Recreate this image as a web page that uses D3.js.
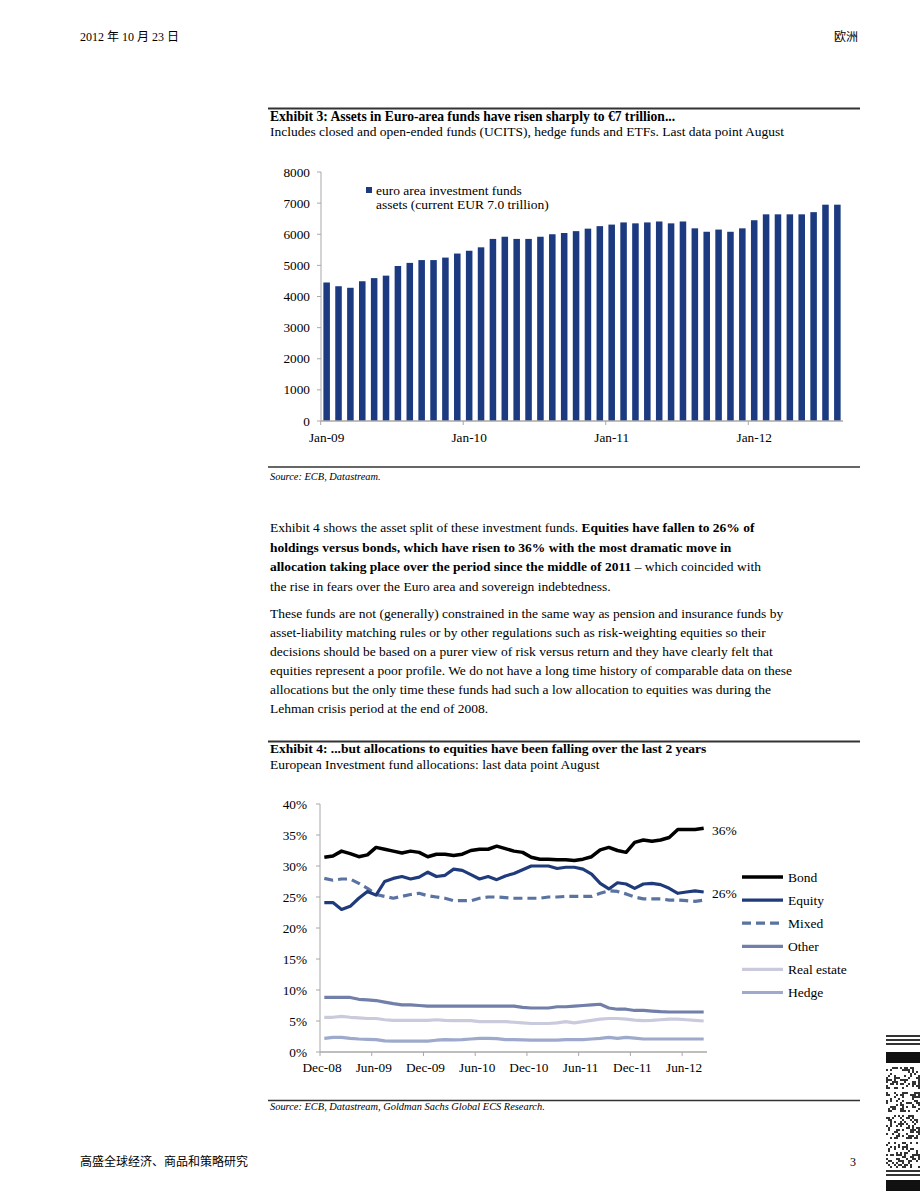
<!DOCTYPE html>
<html>
<head>
<meta charset="utf-8">
<script src="https://cdn.jsdelivr.net/npm/d3@7"></script>
<style>
  body { margin: 0; background: #fff; }
  text { font-family: "Liberation Serif", "Noto Sans CJK SC", serif; fill: #000; }
</style>
</head>
<body>
<svg id="page" width="920" height="1191"></svg>
<script>
// ---- data: exhibit 3 (EUR bn, Jan-09 .. Aug-12)
const assetMonths = d3.timeMonths(new Date(2009, 0, 1), new Date(2012, 8, 1));
const assetValues = [4450, 4330, 4280, 4490, 4590, 4670, 4980, 5080, 5170, 5170,
                     5250, 5380, 5470, 5580, 5850, 5920, 5850, 5850, 5920, 6000,
                     6040, 6100, 6180, 6260, 6310, 6380, 6350, 6380, 6410, 6350,
                     6410, 6190, 6080, 6150, 6080, 6190, 6450, 6640, 6640, 6640,
                     6640, 6710, 6950, 6950];
const assetTicks = [0, 1000, 2000, 3000, 4000, 5000, 6000, 7000, 8000];

// ---- data: exhibit 4 (% of holdings, Dec-08 .. Aug-12)
const allocMonths = d3.timeMonths(new Date(2008, 11, 1), new Date(2012, 8, 1));
const bond = [31.4, 31.6, 32.4, 32.0, 31.5, 31.8, 33.0, 32.7, 32.4, 32.1, 32.4, 32.2, 31.5, 31.9, 31.9,
              31.7, 31.9, 32.5, 32.7, 32.7, 33.2, 32.8, 32.4, 32.2, 31.4, 31.1, 31.1, 31.0, 31.0, 30.9,
              31.1, 31.5, 32.6, 33.0, 32.5, 32.2, 33.8, 34.2, 34.0, 34.2, 34.6, 35.9, 35.9, 35.9, 36.1];
const equity = [24.1, 24.1, 23.0, 23.5, 24.8, 25.9, 25.3, 27.5, 28.0, 28.3, 27.9, 28.2, 29.0, 28.3, 28.5,
                29.5, 29.3, 28.6, 27.9, 28.3, 27.8, 28.4, 28.8, 29.4, 30.0, 30.0, 30.0, 29.6, 29.8, 29.8,
                29.5, 28.7, 27.2, 26.3, 27.3, 27.1, 26.4, 27.1, 27.2, 27.0, 26.4, 25.6, 25.8, 26.0, 25.8];
const mixed = [28.0, 27.7, 27.9, 27.9, 27.2, 26.4, 25.4, 25.1, 24.8, 25.1, 25.4, 25.6, 25.2, 25.0, 24.8,
               24.4, 24.4, 24.4, 24.8, 25.0, 25.0, 24.9, 24.8, 24.8, 24.8, 24.8, 25.0, 25.0, 25.1, 25.1,
               25.1, 25.1, 25.6, 26.0, 25.9, 25.5, 25.0, 24.7, 24.7, 24.7, 24.5, 24.5, 24.4, 24.3, 24.5];
const other = [8.8, 8.8, 8.8, 8.8, 8.5, 8.4, 8.3, 8.05, 7.8, 7.6, 7.6, 7.5, 7.4, 7.4, 7.4,
               7.4, 7.4, 7.4, 7.4, 7.4, 7.4, 7.4, 7.4, 7.2, 7.1, 7.1, 7.1, 7.3, 7.3, 7.4,
               7.5, 7.6, 7.7, 7.1, 6.9, 6.9, 6.7, 6.7, 6.6, 6.5, 6.45, 6.45, 6.45, 6.45, 6.45];
const realEstate = [5.6, 5.6, 5.75, 5.6, 5.5, 5.4, 5.4, 5.2, 5.1, 5.1, 5.1, 5.1, 5.1, 5.2, 5.1,
                    5.05, 5.05, 5.05, 4.9, 4.9, 4.9, 4.9, 4.8, 4.7, 4.6, 4.6, 4.6, 4.7, 4.9, 4.7,
                    4.9, 5.1, 5.3, 5.4, 5.4, 5.3, 5.15, 5.05, 5.1, 5.2, 5.3, 5.3, 5.2, 5.1, 5.0];
const hedge = [2.2, 2.35, 2.35, 2.2, 2.1, 2.05, 2.0, 1.8, 1.75, 1.75, 1.75, 1.75, 1.75, 1.9, 2.0,
               1.95, 2.0, 2.1, 2.2, 2.2, 2.15, 2.0, 2.0, 1.95, 1.9, 1.9, 1.9, 1.9, 2.0, 2.0,
               2.0, 2.1, 2.2, 2.35, 2.2, 2.35, 2.25, 2.1, 2.1, 2.1, 2.1, 2.1, 2.1, 2.1, 2.1];
const allocTicks = [0, 5, 10, 15, 20, 25, 30, 35, 40];
const seriesNames = ['Bond', 'Equity', 'Mixed', 'Other', 'Real estate', 'Hedge'];
const seriesValues = [bond, equity, mixed, other, realEstate, hedge];

const svg = d3.select('#page');
svg.append('rect').attr('width', 920).attr('height', 1191).attr('fill', '#fff');

// ---- page header / footer
svg.append('text').attr('x', 80).attr('y', 41).style('font-size', '12px').text('2012 年 10 月 23 日');
svg.append('text').attr('x', 858).attr('y', 41).attr('text-anchor', 'end').style('font-size', '12px').text('欧洲');
svg.append('text').attr('x', 80).attr('y', 1166).style('font-size', '12px').text('高盛全球经济、商品和策略研究');
svg.append('text').attr('x', 856).attr('y', 1166).attr('text-anchor', 'end').style('font-size', '12px').text('3');

function rule(y, w) {
    svg.append('line').attr('x1', 268).attr('x2', 860).attr('y1', y).attr('y2', y)
        .attr('stroke', '#333').attr('stroke-width', w);
}

function textLine(y, segs, size) {
    let t = svg.append('text').attr('x', 270).attr('y', y).style('font-size', size + 'px');
    segs.forEach(s => {
        t.append('tspan').style('font-weight', s.b ? 'bold' : 'normal')
            .style('font-style', s.i ? 'italic' : 'normal').text(s.t);
    });
    return t;
}

// ---- exhibit 3 frame
rule(108.5, 2);
textLine(120.5, [{t: 'Exhibit 3: Assets in Euro-area funds have risen sharply to €7 trillion...', b: true}], 13.6);
textLine(136, [{t: 'Includes closed and open-ended funds (UCITS), hedge funds and ETFs. Last data point August'}], 13.5);
rule(467, 1.5);
textLine(479.5, [{t: 'Source: ECB, Datastream.', i: true}], 10.4);

// ---- exhibit 3 chart
const x3 = d3.scaleBand().domain(d3.range(assetValues.length)).range([321, 843]).paddingInner(0.45).paddingOuter(0.2);
const y3 = d3.scaleLinear().domain([0, 8000]).range([421, 172]);
const axisColor = '#a8a8a8';

const g3 = svg.append('g');
g3.selectAll('.bar').data(assetValues).join('rect')
    .attr('class', 'bar')
    .attr('x', (d, i) => x3(i))
    .attr('width', x3.bandwidth())
    .attr('y', d => y3(d))
    .attr('height', d => y3(0) - y3(d))
    .attr('fill', '#1b3a80');

g3.append('line').attr('x1', 321).attr('x2', 321).attr('y1', y3(8000)).attr('y2', y3(0)).attr('stroke', axisColor);
g3.append('line').attr('x1', 321).attr('x2', 843).attr('y1', y3(0)).attr('y2', y3(0)).attr('stroke', axisColor).attr('stroke-width', 1.5);
assetTicks.forEach(v => {
    g3.append('line').attr('x1', 317).attr('x2', 321).attr('y1', y3(v)).attr('y2', y3(v)).attr('stroke', axisColor);
    g3.append('text').attr('x', 310).attr('y', y3(v) + 4.5).attr('text-anchor', 'end')
        .style('font-size', '13.3px').text(v);
});
const fmt3 = d3.timeFormat('%b-%y');
assetMonths.forEach((m, i) => {
    if (m.getMonth() !== 0) return;
    const edge = x3(i) - x3.step() * x3.paddingInner() / 2;
    g3.append('line').attr('x1', edge).attr('x2', edge).attr('y1', y3(0)).attr('y2', y3(0) + 4).attr('stroke', axisColor);
    g3.append('text').attr('x', x3(i) + x3.bandwidth() / 2).attr('y', 441.5).attr('text-anchor', 'middle')
        .style('font-size', '13.3px').text(fmt3(m));
});
g3.append('rect').attr('x', 366).attr('y', 187).attr('width', 6).attr('height', 6).attr('fill', '#1b3a80');
g3.append('text').attr('x', 376).attr('y', 194.5).style('font-size', '13.5px').text('euro area investment funds');
g3.append('text').attr('x', 376).attr('y', 208.5).style('font-size', '13.5px').text('assets (current EUR 7.0 trillion)');

// ---- body text
const para = [
    [532, [{t: 'Exhibit 4 shows the asset split of these investment funds. '}, {t: 'Equities have fallen to 26% of', b: true}]],
    [552, [{t: 'holdings versus bonds, which have risen to 36% with the most dramatic move in', b: true}]],
    [571, [{t: 'allocation taking place over the period since the middle of 2011', b: true}, {t: ' – which coincided with'}]],
    [591, [{t: 'the rise in fears over the Euro area and sovereign indebtedness.'}]],
    [618, [{t: 'These funds are not (generally) constrained in the same way as pension and insurance funds by'}]],
    [637, [{t: 'asset-liability matching rules or by other regulations such as risk-weighting equities so their'}]],
    [656, [{t: 'decisions should be based on a purer view of risk versus return and they have clearly felt that'}]],
    [675, [{t: 'equities represent a poor profile. We do not have a long time history of comparable data on these'}]],
    [694, [{t: 'allocations but the only time these funds had such a low allocation to equities was during the'}]],
    [713, [{t: 'Lehman crisis period at the end of 2008.'}]]
];
para.forEach(p => textLine(p[0], p[1], 13.5));

// ---- exhibit 4 frame
rule(741.5, 2);
textLine(752.5, [{t: 'Exhibit 4: ...but allocations to equities have been falling over the last 2 years', b: true}], 13.5);
textLine(768.5, [{t: 'European Investment fund allocations: last data point August'}], 13.5);
rule(1100.5, 1.5);
textLine(1109.5, [{t: 'Source: ECB, Datastream, Goldman Sachs Global ECS Research.', i: true}], 10.4);

// ---- exhibit 4 chart
const x4 = d3.scaleBand().domain(d3.range(allocMonths.length)).range([320, 708]);
const y4 = d3.scaleLinear().domain([0, 40]).range([1052, 804]);
const cx4 = i => x4(i) + x4.bandwidth() / 2;
const g4 = svg.append('g');

g4.append('line').attr('x1', 320).attr('x2', 320).attr('y1', y4(40)).attr('y2', y4(0)).attr('stroke', axisColor);
g4.append('line').attr('x1', 320).attr('x2', 707).attr('y1', y4(0)).attr('y2', y4(0)).attr('stroke', axisColor).attr('stroke-width', 1.5);
allocTicks.forEach(v => {
    g4.append('line').attr('x1', 316).attr('x2', 320).attr('y1', y4(v)).attr('y2', y4(v)).attr('stroke', axisColor);
    g4.append('text').attr('x', 307).attr('y', y4(v) + 4.5).attr('text-anchor', 'end')
        .style('font-size', '13.3px').text(v + '%');
});
allocMonths.forEach((m, i) => {
    if (i % 6 !== 0) return;
    const xx = x4(i);
    g4.append('line').attr('x1', xx).attr('x2', xx).attr('y1', y4(0)).attr('y2', y4(0) + 4).attr('stroke', axisColor);
    g4.append('text').attr('x', xx + 2).attr('y', 1072).attr('text-anchor', 'middle')
        .style('font-size', '13.3px').text(fmt3(m));
});

const styles = [
    {color: '#000000', width: 3.5, dash: null},
    {color: '#1f3b7b', width: 3.2, dash: null},
    {color: '#5a73a0', width: 3.2, dash: '9,5'},
    {color: '#727fa9', width: 3.2, dash: null},
    {color: '#cacadd', width: 3.2, dash: null},
    {color: '#9eaacb', width: 3.2, dash: null}
];
const line4 = d3.line().x((d, i) => cx4(i)).y(d => y4(d));
const drawOrder = [5, 4, 3, 2, 1, 0];
drawOrder.forEach(k => {
    g4.append('path').datum(seriesValues[k]).attr('d', line4)
        .attr('fill', 'none').attr('stroke', styles[k].color).attr('stroke-width', styles[k].width)
        .attr('stroke-linejoin', 'round')
        .attr('stroke-dasharray', styles[k].dash);
});
g4.append('text').attr('x', 712).attr('y', 834.5).style('font-size', '13.5px').text(Math.round(bond[bond.length - 1]) + '%');
g4.append('text').attr('x', 712).attr('y', 897.5).style('font-size', '13.5px').text(Math.round(equity[equity.length - 1]) + '%');

seriesNames.forEach((name, k) => {
    const ly = 877 + k * 23.1;
    g4.append('line').attr('x1', 742).attr('x2', 783).attr('y1', ly).attr('y2', ly)
        .attr('stroke', styles[k].color).attr('stroke-width', styles[k].width)
        .attr('stroke-dasharray', styles[k].dash);
    g4.append('text').attr('x', 788).attr('y', ly + 4.5).style('font-size', '13.5px').text(name);
});

// ---- QR-style print mark at the bottom right corner
const qr = svg.append('g');
[1035, 1039, 1043].forEach(y => qr.append('rect').attr('x', 886).attr('y', y).attr('width', 34).attr('height', 2).attr('fill', '#333'));
qr.append('rect').attr('x', 886).attr('y', 1052).attr('width', 34).attr('height', 11).attr('fill', '#111');
[[1067, 1088], [1092, 1112], [1115, 1138], [1142, 1167]].forEach(([a, b]) => {
    for (let yy = a; yy < b; yy += 2) {
        for (let xx = 886; xx < 920; xx += 2) {
            if (((xx * 31 + yy * 17) ^ (xx * yy)) % 5 < 2) {
                qr.append('rect').attr('x', xx).attr('y', yy).attr('width', 2).attr('height', 2).attr('fill', '#333');
            }
        }
    }
});
[1170, 1174].forEach(y => qr.append('rect').attr('x', 886).attr('y', y).attr('width', 34).attr('height', 2).attr('fill', '#333'));
qr.append('rect').attr('x', 886).attr('y', 1180).attr('width', 34).attr('height', 11).attr('fill', '#111');
</script>
</body>
</html>
